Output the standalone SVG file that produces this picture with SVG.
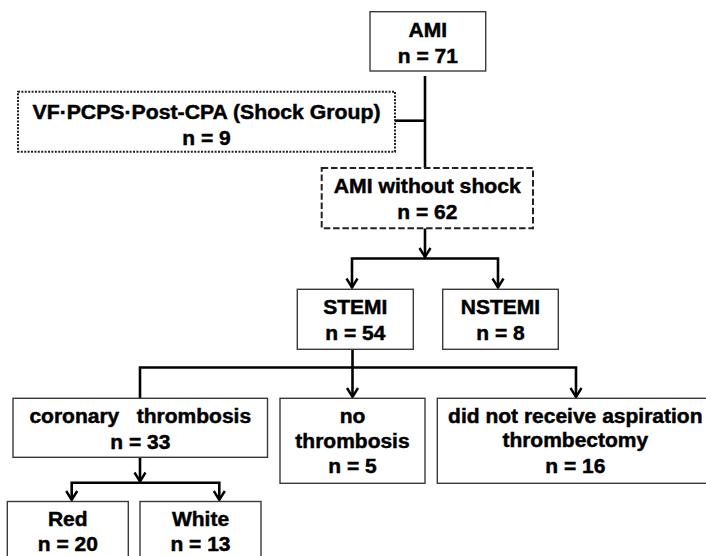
<svg xmlns="http://www.w3.org/2000/svg" width="706" height="556" viewBox="0 0 706 556">
<style>
  .box { fill: #ffffff; stroke: #3a3a3a; stroke-width: 1.4; }
  .dotted { fill: #ffffff; stroke: #222; stroke-width: 2; stroke-dasharray: 2 1.4; }
  .dashed { fill: #ffffff; stroke: #222; stroke-width: 2; stroke-dasharray: 6.5 2.8; }
  .t { font-family: "Liberation Sans", Arial, sans-serif; font-weight: bold; font-size: 19.5px; fill: #000; stroke: #000; stroke-width: 0.45; text-anchor: middle; }
  .conn { fill: none; stroke: #000; stroke-width: 2.6; stroke-linejoin: miter; stroke-linecap: butt; }
  .arr { marker-end: url(#ah); }
  .arr2 { marker-start: url(#ah); marker-end: url(#ah); }
</style>
<defs>
  <marker id="ah" markerUnits="userSpaceOnUse" markerWidth="20" markerHeight="20" refX="0" refY="0" orient="auto-start-reverse" overflow="visible">
    <path d="M -9 -5.5 L 0 0 L -9 5.5" fill="none" stroke="#000" stroke-width="2.4" stroke-linejoin="miter"/>
  </marker>
</defs>
<rect width="706" height="556" fill="#ffffff"/>

<g id="connectors">
  <path class="conn" d="M425 76 V168"/>
  <path class="conn" d="M395 120.7 H425"/>
  <path class="conn arr" d="M425 228.3 V257"/>
  <path class="conn arr2" d="M352 287.5 V258.5 H498 V287.5"/>
  <path class="conn arr" d="M352.5 349.3 V397"/>
  <path class="conn arr" d="M140 398.3 V367.5 H576 V397"/>
  <path class="conn arr" d="M140 457.3 V481.5"/>
  <path class="conn arr2" d="M71.7 500 V482.7 H219.3 V500"/>
</g>

<g id="ami">
  <rect class="box" x="370" y="11.7" width="115.7" height="59.3"/>
  <text class="t" x="427.8" y="36.5" textLength="38.5" lengthAdjust="spacingAndGlyphs">AMI</text>
  <text class="t" x="427.8" y="62.5" textLength="60.1" lengthAdjust="spacingAndGlyphs">n = 71</text>
</g>

<g id="shock">
  <rect class="dotted" x="18" y="91.7" width="377" height="60"/>
  <text class="t" x="206.5" y="118.5" textLength="348" lengthAdjust="spacingAndGlyphs">VF·PCPS·Post-CPA (Shock Group)</text>
  <text class="t" x="206.5" y="145" textLength="48.4" lengthAdjust="spacingAndGlyphs">n = 9</text>
</g>

<g id="ami-without-shock">
  <rect class="dashed" x="321.7" y="168" width="211.3" height="60.3"/>
  <text class="t" x="427.3" y="193.3" textLength="187" lengthAdjust="spacingAndGlyphs">AMI without shock</text>
  <text class="t" x="427.3" y="218.8" textLength="60.1" lengthAdjust="spacingAndGlyphs">n = 62</text>
</g>

<g id="stemi">
  <rect class="box" x="297.3" y="289.3" width="116" height="60"/>
  <text class="t" x="355.3" y="314.3" textLength="64.2" lengthAdjust="spacingAndGlyphs">STEMI</text>
  <text class="t" x="355.3" y="340" textLength="60.1" lengthAdjust="spacingAndGlyphs">n = 54</text>
</g>

<g id="nstemi">
  <rect class="box" x="442.7" y="289.3" width="115.6" height="60"/>
  <text class="t" x="500.5" y="314.3" textLength="79.3" lengthAdjust="spacingAndGlyphs">NSTEMI</text>
  <text class="t" x="500.5" y="340" textLength="48.4" lengthAdjust="spacingAndGlyphs">n = 8</text>
</g>

<g id="coronary-thrombosis">
  <rect class="box" x="13" y="398.3" width="254.5" height="59"/>
  <text class="t" x="140.3" y="423" textLength="221.7" lengthAdjust="spacingAndGlyphs">coronary&#160;&#160;&#160;thrombosis</text>
  <text class="t" x="140.3" y="448.5" textLength="60.1" lengthAdjust="spacingAndGlyphs">n = 33</text>
</g>

<g id="no-thrombosis">
  <rect class="box" x="280" y="398.3" width="145" height="85"/>
  <text class="t" x="352.5" y="422.5" textLength="25.7" lengthAdjust="spacingAndGlyphs">no</text>
  <text class="t" x="352.5" y="447.5" textLength="114.3" lengthAdjust="spacingAndGlyphs">thrombosis</text>
  <text class="t" x="352.5" y="473" textLength="48.4" lengthAdjust="spacingAndGlyphs">n = 5</text>
</g>

<g id="no-aspiration">
  <rect class="box" x="437.3" y="398.3" width="290" height="85"/>
  <text class="t" x="575.3" y="422.5" textLength="254.4" lengthAdjust="spacingAndGlyphs">did not receive aspiration</text>
  <text class="t" x="575.3" y="447" textLength="145.8" lengthAdjust="spacingAndGlyphs">thrombectomy</text>
  <text class="t" x="575.3" y="472.5" textLength="60.1" lengthAdjust="spacingAndGlyphs">n = 16</text>
</g>

<g id="red">
  <rect class="box" x="7.3" y="501.5" width="121" height="70"/>
  <text class="t" x="67.8" y="525.5" textLength="39.7" lengthAdjust="spacingAndGlyphs">Red</text>
  <text class="t" x="67.8" y="551" textLength="60.1" lengthAdjust="spacingAndGlyphs">n = 20</text>
</g>

<g id="white">
  <rect class="box" x="140" y="501.5" width="121" height="70"/>
  <text class="t" x="200.5" y="525.5" textLength="57.2" lengthAdjust="spacingAndGlyphs">White</text>
  <text class="t" x="200.5" y="551" textLength="60.1" lengthAdjust="spacingAndGlyphs">n = 13</text>
</g>
</svg>
